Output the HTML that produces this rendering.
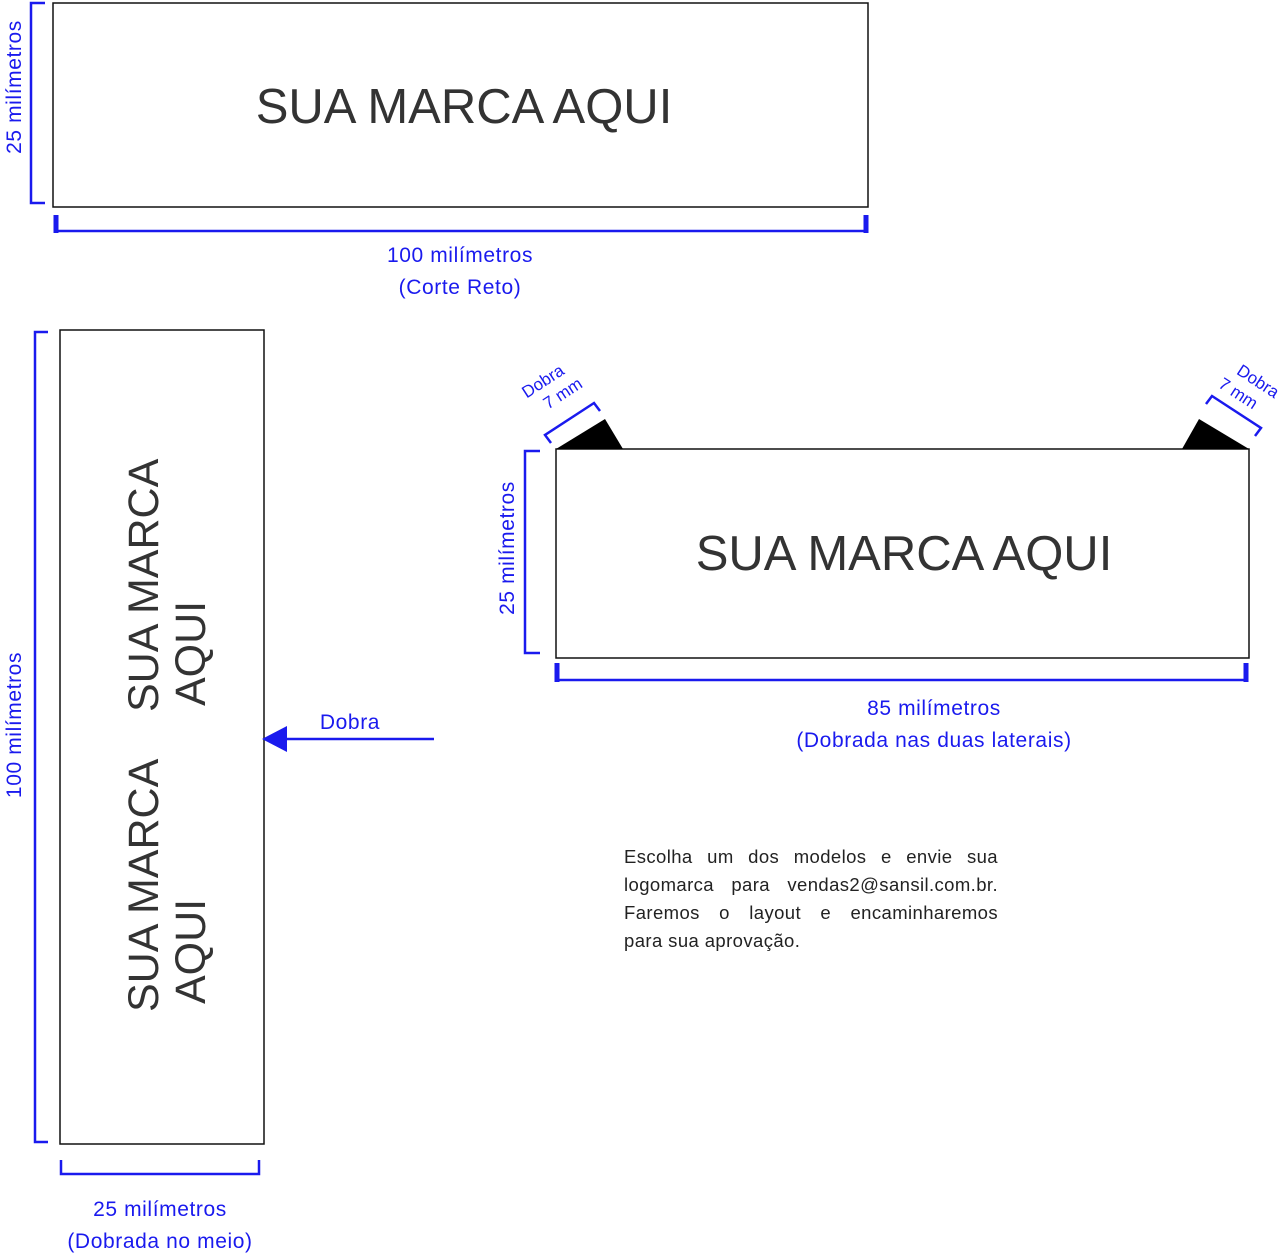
<!DOCTYPE html>
<html><head><meta charset="utf-8"><style>
body{margin:0;background:#fff;width:1280px;height:1253px;overflow:hidden}
svg{display:block}
.b{fill:#1a1aee;font-family:"Liberation Sans",sans-serif;font-size:21px;letter-spacing:0.6px}
.m{fill:#333;font-family:"Liberation Sans",sans-serif;font-size:49px}
.r{fill:#333;font-family:"Liberation Sans",sans-serif;font-size:43px}
.p{position:absolute;left:624px;top:843px;width:374px;font-family:"Liberation Sans",sans-serif;font-size:18.5px;letter-spacing:0.4px;line-height:28px;color:#222;text-align:justify;text-align-last:justify}
.p span{display:block;white-space:nowrap}
</style></head><body>
<svg width="1280" height="1253" viewBox="0 0 1280 1253">
<g fill="none" stroke="#111" stroke-width="1.5">
<rect x="53" y="3" width="815" height="204"/>
<rect x="60" y="330" width="204" height="814"/>
<rect x="556" y="449" width="693" height="209"/>
</g>
<g fill="none" stroke="#1a1aee" stroke-width="2.5">
<path d="M45 3H31V203H45"/>
<path d="M56 216V231H866V216"/>
<path d="M48 332H35V1142H48"/>
<path d="M61 1160V1174H259V1160"/>
<path d="M540 451H525V653H540"/>
<path d="M558 664V680H1246V664"/>
<path d="M434 739H285"/>
<path d="M551 443L545 435L594 403L600 411"/>
<path d="M1206 404L1212 396L1261 428L1255 436"/>
</g>
<g stroke="#1a1aee" stroke-width="5"><path d="M56 215V233M866 215V233M557 663V682M1246 663V682"/></g>
<polygon points="262,739 287,726 287,752" fill="#1a1aee"/>
<polygon points="556,449 605,419 623,449" fill="#000"/>
<polygon points="1182,449 1199,419 1249,449" fill="#000"/>
<text class="m" x="464" y="123" text-anchor="middle">SUA MARCA AQUI</text>
<text class="m" x="904" y="570" text-anchor="middle">SUA MARCA AQUI</text>
<g transform="translate(158,712) rotate(-90)"><text class="r" x="0" y="0">SUA MARCA</text><text class="r" x="6" y="47">AQUI</text></g>
<g transform="translate(158,1012) rotate(-90)"><text class="r" x="0" y="0">SUA MARCA</text><text class="r" x="8" y="47">AQUI</text></g>
<text class="b" x="460" y="262" text-anchor="middle">100 milímetros</text>
<text class="b" x="460" y="294" text-anchor="middle">(Corte Reto)</text>
<text class="b" x="160" y="1216" text-anchor="middle">25 milímetros</text>
<text class="b" x="160" y="1248" text-anchor="middle">(Dobrada no meio)</text>
<text class="b" x="934" y="715" text-anchor="middle">85 milímetros</text>
<text class="b" x="934" y="747" text-anchor="middle">(Dobrada nas duas laterais)</text>
<text class="b" x="350" y="729" text-anchor="middle">Dobra</text>
<text class="b" transform="translate(21,87) rotate(-90)" text-anchor="middle">25 milímetros</text>
<text class="b" transform="translate(21,725) rotate(-90)" text-anchor="middle">100 milímetros</text>
<text class="b" transform="translate(514,548) rotate(-90)" text-anchor="middle">25 milímetros</text>
<g transform="translate(546,386) rotate(-33)"><text class="b" style="font-size:17px;letter-spacing:0" x="0" y="0" text-anchor="middle">Dobra</text><text class="b" style="font-size:17px;letter-spacing:0" x="10" y="21" text-anchor="middle">7 mm</text></g>
<g transform="translate(1255,386) rotate(33)"><text class="b" style="font-size:17px;letter-spacing:0" x="0" y="0" text-anchor="middle">Dobra</text><text class="b" style="font-size:17px;letter-spacing:0" x="-10" y="21" text-anchor="middle">7 mm</text></g>
</svg>
<div class="p"><span>Escolha um dos modelos e envie sua</span><span>logomarca para vendas2@sansil.com.br.</span><span>Faremos o layout e encaminharemos</span><span style="text-align-last:left">para sua aprovação.</span></div>
</body></html>
